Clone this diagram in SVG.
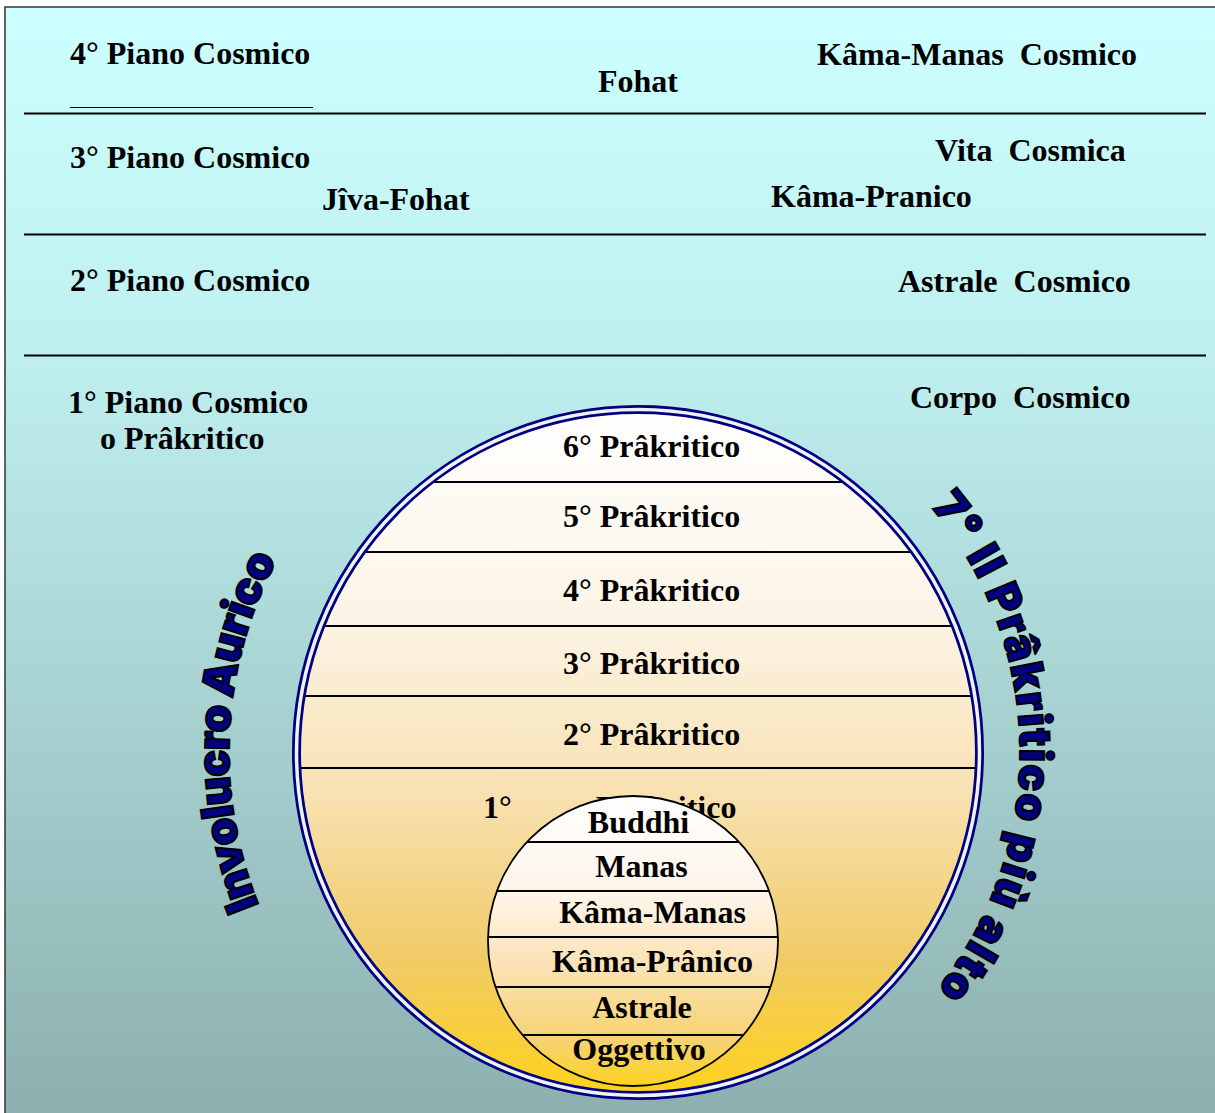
<svg xmlns="http://www.w3.org/2000/svg" width="1215" height="1113" viewBox="0 0 1215 1113">
  <defs>
    <linearGradient id="bgGrad" gradientUnits="userSpaceOnUse" x1="0" y1="7" x2="0" y2="1113">
      <stop offset="0" stop-color="#CCFFFF"/>
      <stop offset="0.3" stop-color="#C0F0F0"/>
      <stop offset="0.6" stop-color="#AAD5D5"/>
      <stop offset="1" stop-color="#8DAFAF"/>
    </linearGradient>
    <linearGradient id="bigGrad" gradientUnits="userSpaceOnUse" x1="0" y1="406" x2="0" y2="1099">
      <stop offset="0" stop-color="#FFFFFF"/>
      <stop offset="0.3" stop-color="#FCF4E6"/>
      <stop offset="0.55" stop-color="#F8E2B4"/>
      <stop offset="0.8" stop-color="#F0CB66"/>
      <stop offset="1" stop-color="#FFD21A"/>
    </linearGradient>
    <linearGradient id="smallGrad" gradientUnits="userSpaceOnUse" x1="0" y1="796" x2="0" y2="1086">
      <stop offset="0" stop-color="#FFFFFF"/>
      <stop offset="0.35" stop-color="#FEF4E8"/>
      <stop offset="0.6" stop-color="#FBE1B0"/>
      <stop offset="0.85" stop-color="#F5D270"/>
      <stop offset="1" stop-color="#FFD21E"/>
    </linearGradient>
    <clipPath id="bigClip">
      <ellipse cx="638" cy="752.5" rx="343" ry="344.5"/>
    </clipPath>
    <clipPath id="smallClip">
      <circle cx="633" cy="941" r="145.5"/>
    </clipPath>
    <path id="arcLeft" d="M 258.8 905.2 A 409 409 0 0 1 276.9 560"/>
    <path id="arcRight" d="M 930.6 506.4 A 382 382 0 0 1 936.9 989.8"/>
  </defs>
  <style>
    .lbl { font-family: "Liberation Serif", "Times New Roman", serif; font-weight: bold; font-size: 32px; fill: #000; }
    .mid { text-anchor: middle; }
    .sep { stroke: #000; stroke-width: 2; }
    .chord { stroke: #000; stroke-width: 2; }
    .arc { font-family: Inter, Roboto, "DejaVu Sans", sans-serif; font-weight: 900; font-size: 44px; fill: #000080; stroke: #000; stroke-width: 2; }
  </style>

  <g id="background">
    <rect x="5" y="7" width="1225" height="1125" fill="url(#bgGrad)" stroke="#333" stroke-width="1.5"/>
  </g>

  <g id="connectors">
    <line class="sep" x1="24" y1="113.5" x2="1206" y2="113.5"/>
    <line class="sep" x1="24" y1="234.5" x2="1206" y2="234.5"/>
    <line class="sep" x1="24" y1="355.5" x2="1206" y2="355.5"/>
    <line x1="70" y1="107.5" x2="313" y2="107.5" stroke="#000" stroke-width="1"/>
  </g>

  <g id="plane4">
    <text class="lbl" x="70" y="64">4° Piano Cosmico</text>
    <text class="lbl" x="598" y="92">Fohat</text>
    <text class="lbl" x="817" y="65" xml:space="preserve">Kâma-Manas  Cosmico</text>
  </g>
  <g id="plane3">
    <text class="lbl" x="70" y="168">3° Piano Cosmico</text>
    <text class="lbl" x="935" y="161" xml:space="preserve">Vita  Cosmica</text>
    <text class="lbl" x="322" y="210">Jîva-Fohat</text>
    <text class="lbl" x="771" y="207">Kâma-Pranico</text>
  </g>
  <g id="plane2">
    <text class="lbl" x="70" y="291">2° Piano Cosmico</text>
    <text class="lbl" x="898" y="292" xml:space="preserve">Astrale  Cosmico</text>
  </g>
  <g id="plane1">
    <text class="lbl" x="68" y="413">1° Piano Cosmico</text>
    <text class="lbl" x="100" y="449">o Prâkritico</text>
    <text class="lbl" x="910" y="408" xml:space="preserve">Corpo  Cosmico</text>
  </g>

  <g id="bigCircle">
    <ellipse cx="638" cy="752.5" rx="341.5" ry="343" fill="url(#bigGrad)"/>
    <g clip-path="url(#bigClip)">
      <line class="chord" x1="280" y1="482" x2="1000" y2="482"/>
      <line class="chord" x1="280" y1="552" x2="1000" y2="552"/>
      <line class="chord" x1="280" y1="626" x2="1000" y2="626"/>
      <line class="chord" x1="280" y1="696" x2="1000" y2="696"/>
      <line class="chord" x1="280" y1="768" x2="1000" y2="768"/>
    </g>
    <ellipse cx="638" cy="752.5" rx="341.5" ry="343" fill="none" stroke="#000080" stroke-width="9"/>
    <ellipse cx="638" cy="752.5" rx="341.5" ry="343" fill="none" stroke="#EEF2F4" stroke-width="3.5"/>
    <text class="lbl" x="563" y="457">6° Prâkritico</text>
    <text class="lbl" x="563" y="527">5° Prâkritico</text>
    <text class="lbl" x="563" y="601">4° Prâkritico</text>
    <text class="lbl" x="563" y="674">3° Prâkritico</text>
    <text class="lbl" x="563" y="745">2° Prâkritico</text>
    <text class="lbl" y="818"><tspan x="483">1°</tspan><tspan x="596">Prâkritico</tspan></text>
  </g>

  <g id="smallCircle">
    <circle cx="633" cy="941" r="145" fill="url(#smallGrad)"/>
    <g clip-path="url(#smallClip)">
      <line class="chord" x1="480" y1="842" x2="790" y2="842"/>
      <line class="chord" x1="480" y1="891" x2="790" y2="891"/>
      <line class="chord" x1="480" y1="937" x2="790" y2="937"/>
      <line class="chord" x1="480" y1="987" x2="790" y2="987"/>
      <line class="chord" x1="480" y1="1035" x2="790" y2="1035"/>
    </g>
    <circle cx="633" cy="941" r="145" fill="none" stroke="#000" stroke-width="1.8"/>
    <text class="lbl mid" x="638.5" y="833">Buddhi</text>
    <text class="lbl mid" x="641.5" y="877">Manas</text>
    <text class="lbl mid" x="652.5" y="923">Kâma-Manas</text>
    <text class="lbl mid" x="652.5" y="972">Kâma-Prânico</text>
    <text class="lbl mid" x="642" y="1018">Astrale</text>
    <text class="lbl mid" x="639" y="1060">Oggettivo</text>
  </g>

  <g id="involucroAurico">
    <text class="arc"><textPath href="#arcLeft" textLength="357" lengthAdjust="spacing">Involucro Aurico</textPath></text>
  </g>
  <g id="settimoPrakritico">
    <text class="arc"><textPath href="#arcRight" textLength="523" lengthAdjust="spacing">7° Il Prâkritico più alto</textPath></text>
  </g>
</svg>
